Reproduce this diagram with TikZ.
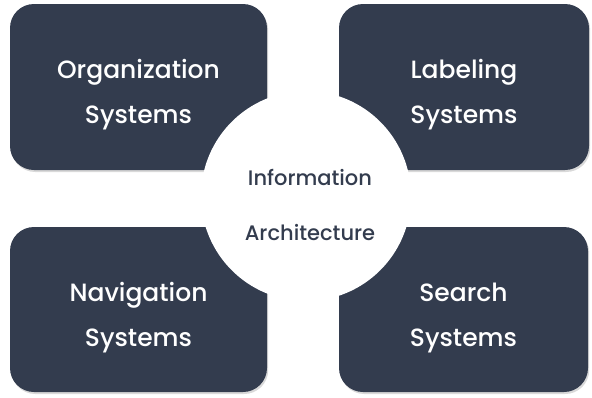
\documentclass[tikz,border=0pt]{standalone}
\usepackage{fontspec}
\setmainfont{Poppins}
\newfontfamily\medfont{Poppins Medium}
\usetikzlibrary{shadows}
\definecolor{slate}{HTML}{333C4E}
\begin{document}
\begin{tikzpicture}[x=1pt,y=-1pt]
	\tikzstyle{every node}+=[inner sep=0pt]
	\tikzstyle{sysbox}=[fill=slate, rounded corners=24pt, drop shadow={shadow xshift=1.2pt, shadow yshift=-2pt, opacity=0.3}]
	\tikzstyle{systext}=[text=white, align=center, font=\medfont\fontsize{25}{45}\selectfont]
	\tikzstyle{hubtext}=[text=slate, align=center, font=\medfont\fontsize{21}{55}\selectfont]
	\useasboundingbox (0,0) rectangle (592,397);
	\node [sysbox, minimum width=257, minimum height=166] (org) at (138.5,87) {};
	\node [sysbox, minimum width=250, minimum height=166] (lab) at (464,87) {};
	\node [sysbox, minimum width=257, minimum height=165] (nav) at (138.5,309.5) {};
	\node [sysbox, minimum width=249, minimum height=165] (sea) at (463.5,309.5) {};
	\node [circle, fill=white, minimum size=210] (hub) at (306,196) {};
	\node [systext] (orgtext) at ([yshift=-8pt]org.center) {Organization\\Systems};
	\node [systext] (labtext) at ([yshift=-8pt]lab.center) {Labeling\\Systems};
	\node [systext] (navtext) at ([yshift=-8pt]nav.center) {Navigation\\Systems};
	\node [systext] (seatext) at ([yshift=-8pt]sea.center) {Search\\Systems};
	\node [hubtext] (hubtext) at ([xshift=4pt,yshift=-9pt]hub.center) {Information\\Architecture};
\end{tikzpicture}
\end{document}
